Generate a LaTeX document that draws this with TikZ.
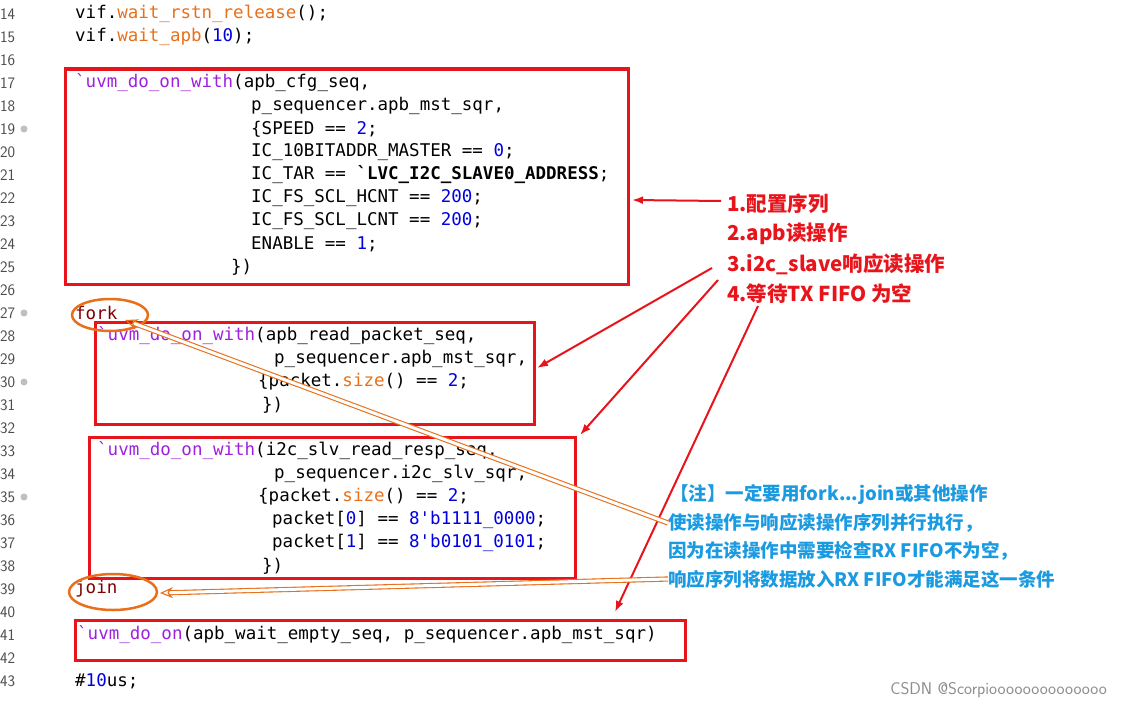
\documentclass[tikz,border=0pt]{standalone}
\usepackage{fontspec}
\setmonofont{DejaVu Sans Mono}
\newfontfamily\cjk{Noto Sans CJK SC}
\usetikzlibrary{arrows.meta,shapes.geometric}
\definecolor{mac}{HTML}{A020E0}
\definecolor{fun}{HTML}{E8701A}
\definecolor{num}{HTML}{0000E0}
\definecolor{kw}{HTML}{800000}
\definecolor{bx}{HTML}{E8141C}
\definecolor{note}{HTML}{1A9AE0}
\newcommand{\cM}[1]{\textcolor{mac}{#1}}
\newcommand{\cF}[1]{\textcolor{fun}{#1}}
\newcommand{\cN}[1]{\textcolor{num}{#1}}
\newcommand{\cK}[1]{\textcolor{kw}{#1}}
\tikzset{
 code/.style={anchor=west,inner sep=0pt,font=\ttfamily\fontsize{17.5}{17.5}\selectfont},
 lno/.style={anchor=west,inner sep=0pt,text=black!70,font=\sffamily\fontsize{16}{16}\selectfont},
 rbox/.style={draw=bx,line width=3pt},
 oell/.style={draw=fun,line width=2.5pt},
 rlab/.style={anchor=west,inner sep=0pt,text=bx,font=\cjk\bfseries\fontsize{20.5}{20.5}\selectfont},
 blab/.style={anchor=west,inner sep=0pt,text=note,font=\cjk\bfseries\fontsize{18.5}{18.5}\selectfont},
 rarr/.style={draw=bx,line width=2pt,-{Latex[length=11pt,width=8pt]}},
 oarr/.style={draw=fun,double=white,double distance=3pt,line width=1.1pt,-{Stealth[open,length=13pt,width=11pt]}},
}
\begin{document}
\begin{tikzpicture}[x=1pt,y=-1pt]
\useasboundingbox[fill=white] (0,0) rectangle (1121,709);
\foreach \n in {14,...,43}{
  \pgfmathtruncatemacro\yy{14+(\n-14)*23}
  \node[lno] (l\n) at (0,\yy) {\n};
}
\foreach \n in {19,27,30,35}{
  \pgfmathtruncatemacro\yy{14+(\n-14)*23}
  \fill[black!25] (24,\yy) circle (3.5);
}
\node[code] (c14) at (75,14) {vif.\cF{wait\_rstn\_release}();};
\node[code] (c15) at (75,37) {vif.\cF{wait\_apb}(\cN{10});};
\node[code] (c17) at (75,83) {\cM{`uvm\_do\_on\_with}(apb\_cfg\_seq,};
\node[code] (c18) at (251,106) {p\_sequencer.apb\_mst\_sqr,};
\node[code] (c19) at (251,129) {\{SPEED == \cN{2};};
\node[code] (c20) at (251,152) {IC\_10BITADDR\_MASTER == \cN{0};};
\node[code] (c21) at (251,175) {IC\_TAR == \textbf{`LVC\_I2C\_SLAVE0\_ADDRESS};};
\node[code] (c22) at (251,198) {IC\_FS\_SCL\_HCNT == \cN{200};};
\node[code] (c23) at (251,221) {IC\_FS\_SCL\_LCNT == \cN{200};};
\node[code] (c24) at (251,244) {ENABLE == \cN{1};};
\node[code] (c25) at (231,267) {\})};
\node[code] (c27) at (75,313) {\cK{fork}};
\node[code] (c28) at (97,336) {\cM{`uvm\_do\_on\_with}(apb\_read\_packet\_seq,};
\node[code] (c29) at (274,359) {p\_sequencer.apb\_mst\_sqr,};
\node[code] (c30) at (258,382) {\{packet.\cF{size}() == \cN{2};};
\node[code] (c31) at (262,405) {\})};
\node[code] (c33) at (97,451) {\cM{`uvm\_do\_on\_with}(i2c\_slv\_read\_resp\_seq,};
\node[code] (c34) at (274,474) {p\_sequencer.i2c\_slv\_sqr,};
\node[code] (c35) at (258,497) {\{packet.\cF{size}() == \cN{2};};
\node[code] (c36) at (272,520) {packet[\cN{0}] == \cN{8'b1111\_0000};};
\node[code] (c37) at (272,543) {packet[\cN{1}] == \cN{8'b0101\_0101};};
\node[code] (c38) at (262,566) {\})};
\node[code] (c39) at (75,589) {\cK{join}};
\node[code] (c41) at (77,635) {\cM{`uvm\_do\_on}(apb\_wait\_empty\_seq, p\_sequencer.apb\_mst\_sqr)};
\node[code] (c43) at (75,681) {\#\cN{10}us;};
% boxes
\draw[rbox] (65,69) rectangle (628,284);
\draw[rbox] (95,322) rectangle (534,424);
\draw[rbox] (89,437) rectangle (575,578);
\draw[rbox] (75,620) rectangle (685,660);
\node[oell,ellipse,minimum width=76pt,minimum height=32pt] (ef) at (110,315) {};
\node[oell,ellipse,minimum width=88pt,minimum height=36pt] (ej) at (113,592) {};
% labels
\node[rlab] (r1) at (727,204) {1.配置序列};
\node[rlab] (r2) at (727,234) {2.apb读操作};
\node[rlab] (r3) at (727,264) {3.i2c\_slave响应读操作};
\node[rlab] (r4) at (727,294) {4.等待TX FIFO 为空};
\coordinate (t1) at (632,200);
\coordinate (t2) at (537,368);
\coordinate (t3) at (580,435);
\coordinate (t4) at (615,612);
\draw[rarr] (r1.west) ++(-6,-3) -- (t1);
\draw[rarr] (712,268) -- (t2);
\draw[rarr] (718,280) -- (t3);
\draw[rarr] (758,306) -- (t4);
\node[blab] (b1) at (670,495) {【注】一定要用fork...join或其他操作};
\node[blab] (b2) at (668,523) {使读操作与响应读操作序列并行执行，};
\node[blab] (b3) at (668,551) {因为在读操作中需要检查RX FIFO不为空，};
\node[blab] (b4) at (668,579) {响应序列将数据放入RX FIFO才能满足这一条件};
\coordinate (f1) at (125,320);
\coordinate (j1) at (160,593);
\draw[oarr] (b2.west) -- (f1);
\draw[oarr] (b4.west) -- (j1);
\node[anchor=east,inner sep=0pt,text=black!45,font=\sffamily\fontsize{17}{17}\selectfont] (wm) at (1107,690) {CSDN @Scorpioooooooooooooo};
\end{tikzpicture}
\end{document}
